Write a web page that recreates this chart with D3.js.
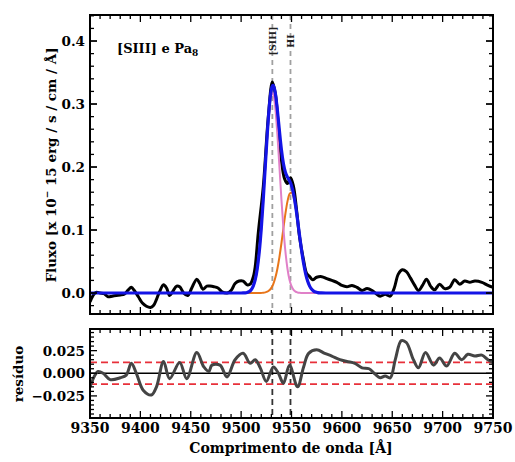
<!DOCTYPE html>
<html><head><meta charset="utf-8">
<script src="https://cdn.jsdelivr.net/npm/d3@7"></script>
<style>body{margin:0;background:#fff;} text{font-family:"DejaVu Serif",serif;font-weight:bold;}</style>
</head><body>
<svg id="c" width="515" height="462"></svg>
<script>
// observed flux
const obsWave = [9350,9353,9356,9360,9364,9368,9372,9376,9380,9384,9388,9391,9394,9398,9402,9406,9410,9413,9416,9419,9423,9426,9429,9432,9436,9439,9443,9447,9451,9456,9459,9462,9466,9469,9473,9477,9481,9486,9490,9494,9498,9502,9506,9509,9512,9514,9517,9522,9527,9531,9534,9537,9540,9543,9546,9549,9552,9555,9558,9562,9565,9568,9571,9575,9580,9585,9590,9595,9600,9605,9610,9615,9620,9625,9630,9634,9638,9643,9648,9652,9656,9660,9664,9668,9672,9676,9680,9684,9688,9692,9697,9702,9707,9712,9717,9722,9727,9732,9739,9745,9750];
const obsFlux = [-0.014,-0.004,0.001,0.0,-0.001,-0.006,-0.005,-0.004,-0.003,-0.002,0.005,0.009,0.004,-0.006,-0.016,-0.021,-0.023,-0.020,-0.010,0.002,0.013,0.008,-0.004,0.002,0.011,0.010,0.0,-0.004,0.008,0.022,0.015,0.006,0.011,0.011,0.010,0.008,0.002,0.0,0.004,0.015,0.019,0.019,0.013,0.014,0.025,0.042,0.095,0.169,0.280,0.335,0.316,0.264,0.211,0.182,0.174,0.183,0.169,0.132,0.089,0.052,0.031,0.026,0.021,0.025,0.026,0.023,0.020,0.017,0.012,0.010,0.012,0.009,0.004,0.007,0.004,-0.001,-0.005,-0.002,-0.005,0.008,0.030,0.037,0.034,0.024,0.013,0.004,0.012,0.022,0.011,0.005,0.014,0.007,0.009,0.021,0.014,0.019,0.017,0.019,0.017,0.012,0.009];
// model components
const modelWave = [9350,9500,9502,9504,9506,9508,9510,9512,9514,9516,9518,9520,9522,9524,9526,9528,9530,9531,9532,9534,9536,9538,9540,9542,9544,9546,9548,9550,9552,9554,9556,9558,9560,9562,9564,9566,9568,9570,9572,9574,9576,9578,9580,9584,9750];
const siiiFlux = [0,0,0.0001,0.0003,0.0009,0.0022,0.0051,0.0108,0.0211,0.0385,0.0652,0.1022,0.1487,0.2008,0.2515,0.2923,0.3150,0.318,0.3150,0.2923,0.2515,0.2008,0.1487,0.1022,0.0652,0.0385,0.0211,0.0108,0.0051,0.0022,0.0009,0.0003,0.0001,0,0,0,0,0,0,0,0,0,0,0,0];
const hiFlux = [0,0,0,0,0,0,0,0,0,0,0.0001,0.0002,0.0004,0.0010,0.0021,0.0043,0.0082,0.0110,0.0146,0.0245,0.0385,0.0570,0.0790,0.1031,0.1263,0.1454,0.1572,0.1597,0.1524,0.1366,0.1150,0.0910,0.0676,0.0472,0.0309,0.0191,0.0110,0.0060,0.0031,0.0015,0.0007,0.0003,0.0001,0,0];
const totalFlux = [0,0,0.0001,0.0003,0.0009,0.0022,0.0051,0.0108,0.0211,0.0385,0.0653,0.1024,0.1491,0.2018,0.2536,0.2966,0.3232,0.3290,0.3296,0.3168,0.2900,0.2578,0.2277,0.2053,0.1915,0.1839,0.1783,0.1705,0.1575,0.1388,0.1159,0.0913,0.0677,0.0472,0.0309,0.0191,0.0110,0.0060,0.0031,0.0015,0.0007,0.0003,0.0001,0,0];
// residuals
const resWave = [9350,9355,9358,9363,9370,9380,9386,9391,9396,9403,9411,9416,9423,9429,9439,9446,9456,9463,9468,9471,9479,9486,9494,9502,9509,9514,9519,9525,9532,9537,9542,9548,9556,9562,9567,9575,9583,9590,9598,9605,9613,9620,9627,9633,9638,9643,9648,9653,9659,9664,9671,9676,9683,9691,9697,9704,9712,9719,9725,9732,9739,9745,9750];
const resVal = [-0.015,-0.002,0.002,0.0,-0.007,-0.005,-0.002,0.011,0.0,-0.019,-0.024,-0.015,0.013,-0.006,0.012,-0.006,0.023,0.007,0.002,0.009,0.009,-0.004,0.015,0.022,0.011,0.015,0.006,-0.009,0.007,0.0,-0.011,0.009,-0.015,0.007,0.022,0.026,0.022,0.019,0.015,0.013,0.011,0.006,0.005,-0.001,-0.005,-0.003,-0.005,0.015,0.036,0.034,0.015,0.006,0.023,0.009,0.017,0.008,0.022,0.015,0.021,0.019,0.020,0.015,0.012];
const sigmaLevel = 0.012;
const lineCenters = [9531, 9549];
const lineLabels = ["[SIII]", "HI"];
const xTicks = [9350,9400,9450,9500,9550,9600,9650,9700,9750];
const yTicksTop = [0.0,0.1,0.2,0.3,0.4];
const yTicksRes = [-0.025,0.0,0.025];

const svg = d3.select("#c");
const L = 90, R = 493;
const x = d3.scaleLinear().domain([9350,9750]).range([L,R]);
const yT = d3.scaleLinear().domain([-0.0333,0.4413]).range([314,15]);
const yB = d3.scaleLinear().domain([-0.0494,0.0489]).range([418,329]);

const mk = (xs, ys, sy) => xs.map((w,i)=>[x(w), sy(ys[i])]);
const line = d3.line().curve(d3.curveCatmullRom.alpha(0.5));
const lineLin = d3.line().curve(d3.curveMonotoneX);

const defs = svg.append("defs");
defs.append("clipPath").attr("id","ct").append("rect").attr("x",L).attr("y",15).attr("width",R-L).attr("height",299);
defs.append("clipPath").attr("id","cb").append("rect").attr("x",L).attr("y",329).attr("width",R-L).attr("height",89);

// ---- top panel
const gT = svg.append("g").attr("clip-path","url(#ct)");
lineCenters.forEach(c=>{
  gT.append("line").attr("x1",x(c)).attr("x2",x(c)).attr("y1",15).attr("y2",314)
    .attr("stroke","#a0a0a0").attr("stroke-width",1.8).attr("stroke-dasharray","5,4");
});
gT.append("path").attr("d",line(mk(obsWave,obsFlux,yT))).attr("fill","none").attr("stroke","#000").attr("stroke-width",3);
gT.append("path").attr("d",lineLin(mk(modelWave,hiFlux,yT))).attr("fill","none").attr("stroke","#e8751a").attr("stroke-width",2);
gT.append("path").attr("d",lineLin(mk(modelWave,siiiFlux,yT))).attr("fill","none").attr("stroke","#e080c8").attr("stroke-width",2);
gT.append("path").attr("d",lineLin(mk(modelWave,totalFlux,yT))).attr("fill","none").attr("stroke","#1414e6").attr("stroke-width",3.2);

lineCenters.forEach((c,i)=>{
  svg.append("text").attr("transform",`translate(${x(c)+3.5},41) rotate(-90)`)
    .attr("text-anchor","middle").attr("font-size",9.5).attr("fill","#222").text(lineLabels[i]);
});

const tt = svg.append("text").attr("x",117).attr("y",53).attr("font-size",13);
tt.append("tspan").text("[SIII] e Pa");
tt.append("tspan").attr("font-size",9).attr("dy",3).text("8");

// ---- bottom panel
const gB = svg.append("g").attr("clip-path","url(#cb)");
lineCenters.forEach(c=>{
  gB.append("line").attr("x1",x(c)).attr("x2",x(c)).attr("y1",329).attr("y2",418)
    .attr("stroke","#333").attr("stroke-width",1.8).attr("stroke-dasharray","6,4");
});
[sigmaLevel,-sigmaLevel].forEach(v=>{
  gB.append("line").attr("x1",L).attr("x2",R).attr("y1",yB(v)).attr("y2",yB(v))
    .attr("stroke","#e8303a").attr("stroke-width",1.8).attr("stroke-dasharray","7,4");
});
gB.append("line").attr("x1",L).attr("x2",R).attr("y1",yB(0)).attr("y2",yB(0)).attr("stroke","#000").attr("stroke-width",1.5);
gB.append("path").attr("d",line(mk(resWave,resVal,yB))).attr("fill","none").attr("stroke","#444").attr("stroke-width",3);

// ---- axes
function frame(sy, top, bot, yMajor, yMinor, showX, yFmt){
  const xMinor = d3.range(9350,9751,10);
  const g = svg.append("g");
  xMinor.forEach(v=>{
    const maj = xTicks.includes(v);
    const len = maj?7:4;
    g.append("line").attr("x1",x(v)).attr("x2",x(v)).attr("y1",bot).attr("y2",bot-len).attr("stroke","#000").attr("stroke-width",1.3);
    g.append("line").attr("x1",x(v)).attr("x2",x(v)).attr("y1",top).attr("y2",top+len).attr("stroke","#000").attr("stroke-width",1.3);
  });
  yMinor.forEach(v=>{
    const maj = yMajor.some(m=>Math.abs(m-v)<1e-9);
    const len = maj?7:4;
    g.append("line").attr("x1",L).attr("x2",L+len).attr("y1",sy(v)).attr("y2",sy(v)).attr("stroke","#000").attr("stroke-width",1.3);
    g.append("line").attr("x1",R).attr("x2",R-len).attr("y1",sy(v)).attr("y2",sy(v)).attr("stroke","#000").attr("stroke-width",1.3);
  });
  yMajor.forEach(v=>{
    g.append("text").attr("x",L-5).attr("y",sy(v)+5).attr("text-anchor","end").attr("font-size",13.5).text(yFmt(v));
  });
  if(showX){
    xTicks.forEach(v=>{
      g.append("text").attr("x",x(v)).attr("y",bot+15).attr("text-anchor","middle").attr("font-size",14).text(v);
    });
  }
  g.append("rect").attr("x",L).attr("y",top).attr("width",R-L).attr("height",bot-top).attr("fill","none").attr("stroke","#000").attr("stroke-width",2);
}
const minorTop = d3.range(-2,23).map(i=>+(i*0.02).toFixed(3)).filter(v=>v>=-0.033&&v<=0.441);
frame(yT,15,314,yTicksTop,minorTop.concat(yTicksTop),false,d=>d.toFixed(1));
const minorRes = d3.range(-9,10).map(i=>+(i*0.005).toFixed(3));
frame(yB,329,418,yTicksRes,minorRes,true,d=>d===0?"0.000":(d<0?"\u2212"+Math.abs(d).toFixed(3):d.toFixed(3)));

// axis labels
const yl = svg.append("text").attr("transform","translate(56,165) rotate(-90)").attr("text-anchor","middle").attr("font-size",13.5);
yl.append("tspan").text("Fluxo [x 10");
yl.append("tspan").attr("font-size",9).attr("dy",-6).text("\u2212");
yl.append("tspan").attr("dy",6).text(" 15 erg / s / cm / Å]");
svg.append("text").attr("transform","translate(23,374) rotate(-90)").attr("text-anchor","middle").attr("font-size",13.5).text("resíduo");
svg.append("text").attr("x",291).attr("y",453).attr("text-anchor","middle").attr("font-size",14).text("Comprimento de onda [Å]");
</script>
</body></html>
